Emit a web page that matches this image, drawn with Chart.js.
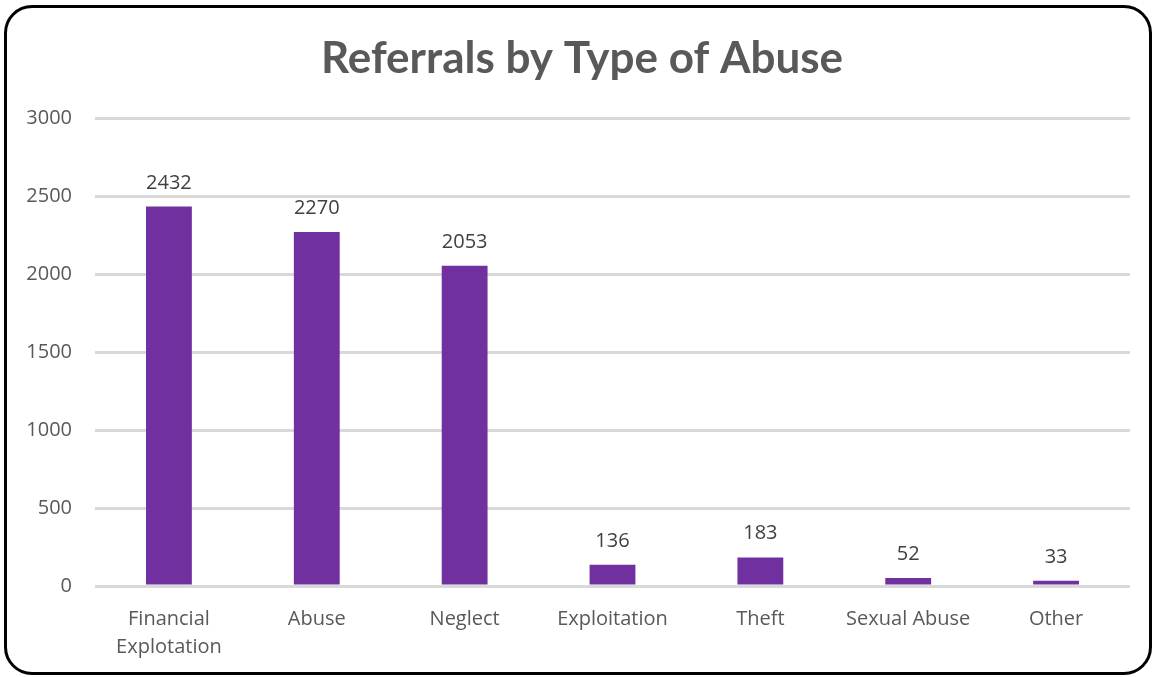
<!DOCTYPE html>
<html>
<head>
<meta charset="utf-8">
<title>Referrals by Type of Abuse</title>
<script src="https://cdn.jsdelivr.net/npm/chart.js@4.4.1/dist/chart.umd.min.js"></script>
<style>
  html, body { margin: 0; padding: 0; background: #fff; }
  #wrap { position: relative; width: 1154px; height: 677px; overflow: hidden; }
  #frame {
    position: absolute; left: 4px; top: 5px;
    width: 1148px; height: 670px; box-sizing: border-box;
    border: 3px solid #000; border-radius: 28px;
    pointer-events: none;
  }
</style>
</head>
<body>
<div id="wrap">
  <canvas id="chartCanvas"></canvas>
  <div id="frame"></div>
</div>
<script>
const chartTitle = "Referrals by Type of Abuse";
const categories = [["Financial", "Explotation"], "Abuse", "Neglect", "Exploitation", "Theft", "Sexual Abuse", "Other"];
const referrals = [2432, 2270, 2053, 136, 183, 52, 33];
const yTicks = [0, 500, 1000, 1500, 2000, 2500, 3000];

const textFont = "'Open Sans', sans-serif";

// writes the count above each bar
const barValues = {
  id: "barValues",
  afterDatasetsDraw(chart) {
    const ctx = chart.ctx;
    const meta = chart.getDatasetMeta(0);
    ctx.save();
    ctx.font = "20px " + textFont;
    ctx.fillStyle = "#404040";
    ctx.textAlign = "center";
    ctx.textBaseline = "alphabetic";
    meta.data.forEach((bar, i) => {
      ctx.fillText(String(chart.data.datasets[0].data[i]), bar.x, bar.y - 18);
    });
    ctx.restore();
  }
};

// heading sits a bit left of the plot centre, so draw it by hand
const heading = {
  id: "heading",
  afterDraw(chart) {
    const ctx = chart.ctx;
    ctx.save();
    ctx.font = "bold 44px Lato, sans-serif";
    ctx.fillStyle = "#595959";
    ctx.textAlign = "center";
    ctx.textBaseline = "alphabetic";
    ctx.fillText(chartTitle, 582, 73);
    ctx.restore();
  }
};

const ctx = document.getElementById("chartCanvas").getContext("2d");
const chart = new Chart(ctx, {
  type: "bar",
  data: {
    labels: categories,
    datasets: [{
      label: "Referrals",
      data: referrals,
      backgroundColor: "#7030A0",
      borderWidth: 0,
      barPercentage: 0.62,
      categoryPercentage: 0.5
    }]
  },
  options: {
    responsive: true,
    maintainAspectRatio: false,
    animation: false,
    layout: { padding: { top: 118, left: 0, right: 24, bottom: 0 } },
    plugins: {
      legend: { display: false },
      tooltip: { enabled: false },
      title: { display: false }
    },
    scales: {
      x: {
        grid: { display: false },
        border: { display: false },
        ticks: {
          color: "#595959",
          font: { family: textFont, size: 20, lineHeight: 1.4 },
          padding: 11,
          maxRotation: 0,
          autoSkip: false
        },
        afterFit(scale) { scale.height = 91; }
      },
      y: {
        min: 0,
        max: 3000,
        afterBuildTicks(scale) { scale.ticks = yTicks.map(v => ({ value: v })); },
        grid: { color: "#D9D9D9", lineWidth: 3, drawTicks: false },
        border: { display: false },
        ticks: {
          color: "#595959",
          font: { family: textFont, size: 20 },
          padding: 23,
          callback: value => String(value)
        },
        afterFit(scale) { scale.width = 95; }
      }
    }
  },
  plugins: [barValues, heading]
});
</script>
</body>
</html>
